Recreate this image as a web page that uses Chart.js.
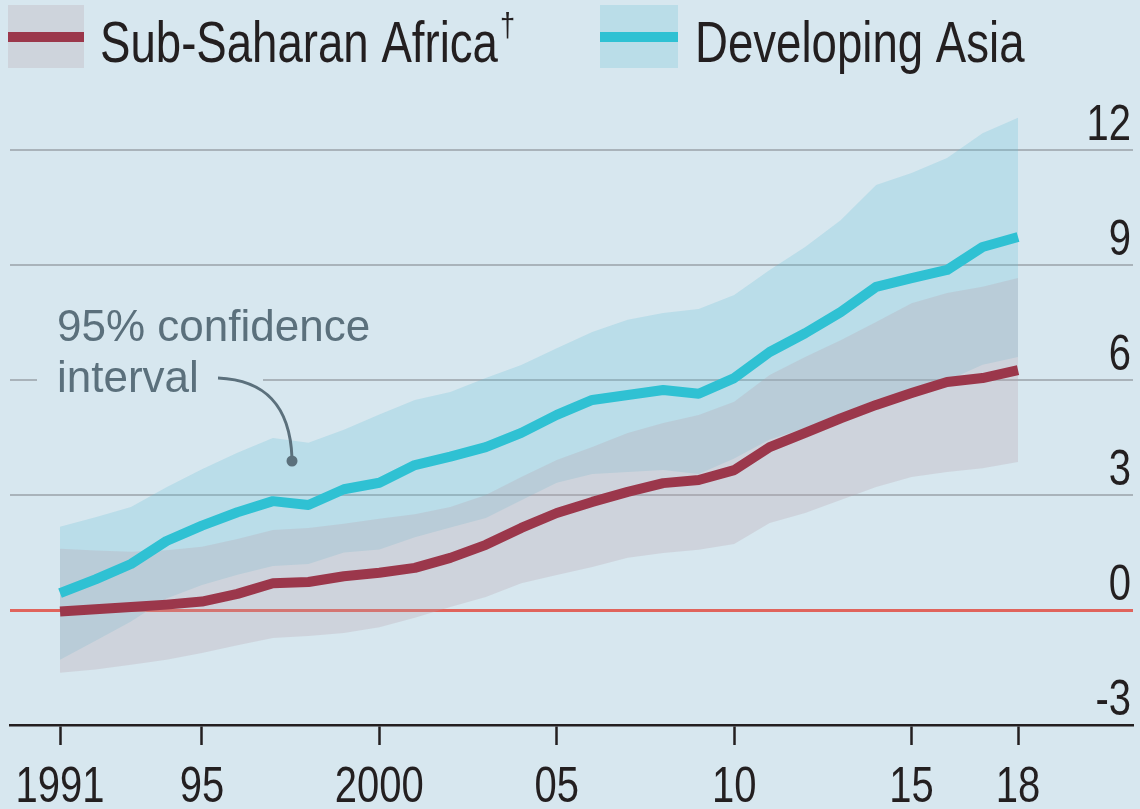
<!DOCTYPE html>
<html>
<head>
<meta charset="utf-8">
<script src="https://cdn.jsdelivr.net/npm/chart.js@4.4.1/dist/chart.umd.min.js"></script>
<style>
    html, body { margin: 0; padding: 0; background: #d7e7ef; }
    canvas { display: block; }
</style>
</head>
<body>
<canvas id="chart" width="1140" height="809"></canvas>
<script>
const years = [1991, 1992, 1993, 1994, 1995, 1996, 1997, 1998, 1999, 2000, 2001, 2002, 2003, 2004,
    2005, 2006, 2007, 2008, 2009, 2010, 2011, 2012, 2013, 2014, 2015, 2016, 2017, 2018];

const africa = [-0.04, 0.02, 0.08, 0.14, 0.22, 0.42, 0.7, 0.73, 0.88, 0.97, 1.1, 1.36, 1.7, 2.14,
    2.53, 2.82, 3.08, 3.31, 3.39, 3.65, 4.25, 4.62, 5.0, 5.35, 5.66, 5.95, 6.05, 6.26];
const africaHi = [1.6, 1.55, 1.52, 1.56, 1.65, 1.85, 2.09, 2.14, 2.25, 2.38, 2.5, 2.69, 3.0, 3.47,
    3.91, 4.25, 4.62, 4.88, 5.09, 5.43, 6.13, 6.6, 7.04, 7.51, 8.0, 8.27, 8.43, 8.66];
const africaLo = [-1.64, -1.55, -1.43, -1.3, -1.12, -0.92, -0.73, -0.68, -0.6, -0.45, -0.2, 0.08, 0.34, 0.7,
    0.91, 1.12, 1.36, 1.49, 1.57, 1.72, 2.27, 2.53, 2.87, 3.21, 3.47, 3.6, 3.7, 3.86];

const asia = [0.44, 0.8, 1.2, 1.8, 2.2, 2.55, 2.84, 2.74, 3.15, 3.32, 3.78, 4.0, 4.25, 4.62,
    5.09, 5.48, 5.61, 5.74, 5.64, 6.05, 6.73, 7.22, 7.77, 8.43, 8.66, 8.87, 9.47, 9.73];
const asiaHi = [2.17, 2.42, 2.69, 3.2, 3.67, 4.1, 4.49, 4.36, 4.7, 5.1, 5.48, 5.69, 6.05, 6.39,
    6.83, 7.25, 7.57, 7.75, 7.85, 8.22, 8.87, 9.47, 10.17, 11.09, 11.4, 11.79, 12.44, 12.84];
const asiaLo = [-1.3, -0.8, -0.3, 0.3, 0.65, 0.92, 1.15, 1.2, 1.5, 1.58, 1.9, 2.15, 2.4, 2.86,
    3.32, 3.55, 3.6, 3.65, 3.55, 3.95, 4.45, 4.75, 5.1, 5.5, 5.75, 5.98, 6.4, 6.6];

const xTicks = [1991, 1995, 2000, 2005, 2010, 2015, 2018];
const xTickLabels = ["1991", "95", "2000", "05", "10", "15", "18"];
const yTicks = [-3, 0, 3, 6, 9, 12];
const yTickLabels = ["-3", "0", "3", "6", "9", "12"];

const bg = "#d7e7ef";
const ink = "#231f20";
const noteInk = "#5b707c";
const red = "#9b374b";
const cyan = "#2fc1d3";
const asiaBand = "rgba(100,190,215,0.25)";
const africaBand = "rgba(183,163,171,0.28)";
const sans = "'Liberation Sans', 'DejaVu Sans', sans-serif";
// the original face is a narrow one, so text is squeezed sideways
const squeeze = 0.8;

function points(values) {
    return years.map((yr, i) => ({ x: yr, y: values[i] }));
}

function lineSet(label, values, color) {
    return {
        label: label,
        data: points(values),
        borderColor: color,
        borderWidth: 10,
        borderJoinStyle: "round",
        borderCapStyle: "butt",
        pointRadius: 0,
        fill: false,
    };
}

function bandSet(label, values, color, fill) {
    return {
        label: label,
        data: points(values),
        borderWidth: 0,
        borderColor: "transparent",
        backgroundColor: color,
        pointRadius: 0,
        fill: fill,
    };
}

function narrowText(ctx, text, x, y, align) {
    ctx.save();
    ctx.translate(x, y);
    ctx.scale(squeeze, 1);
    ctx.textAlign = align;
    ctx.fillText(text, 0, 0);
    const w = ctx.measureText(text).width * squeeze;
    ctx.restore();
    return w;
}

const decor = {
    id: "decor",
    beforeDraw(chart) {
        const ctx = chart.ctx;
        ctx.save();
        ctx.fillStyle = bg;
        ctx.fillRect(0, 0, chart.width, chart.height);
        ctx.restore();
    },
    afterDraw(chart) {
        const ctx = chart.ctx;
        const xScale = chart.scales.x;
        const yScale = chart.scales.y;
        ctx.save();
        ctx.fillStyle = ink;
        ctx.textBaseline = "alphabetic";
        ctx.font = `50px ${sans}`;

        // tick labels
        yTicks.forEach((v, i) => {
            narrowText(ctx, yTickLabels[i], 1131, yScale.getPixelForValue(v) - 10, "right");
        });
        xTicks.forEach((v, i) => {
            narrowText(ctx, xTickLabels[i], xScale.getPixelForValue(v), 802, "center");
        });

        // legend
        ctx.fillStyle = "#ced4dc";
        ctx.fillRect(8, 5, 76, 63);
        ctx.fillStyle = red;
        ctx.fillRect(8, 32, 76, 10);
        ctx.fillStyle = "#badde8";
        ctx.fillRect(600, 5, 78, 63);
        ctx.fillStyle = cyan;
        ctx.fillRect(600, 32, 78, 10);

        ctx.fillStyle = ink;
        ctx.font = `57px ${sans}`;
        const w = narrowText(ctx, "Sub-Saharan Africa", 100, 62, "left");
        narrowText(ctx, "Developing Asia", 695, 62, "left");
        ctx.font = `34px ${sans}`;
        narrowText(ctx, "†", 100 + w + 2, 36, "left");

        // annotation
        ctx.fillStyle = bg;
        ctx.fillRect(37, 290, 226, 110);
        ctx.fillStyle = noteInk;
        ctx.font = `44px ${sans}`;
        ctx.textAlign = "left";
        ctx.fillText("95% confidence", 57, 341);
        ctx.fillText("interval", 57, 392);
        ctx.strokeStyle = noteInk;
        ctx.lineWidth = 3;
        ctx.beginPath();
        ctx.moveTo(218, 378);
        ctx.bezierCurveTo(265, 380, 290, 405, 292, 458);
        ctx.stroke();
        ctx.beginPath();
        ctx.arc(292, 461, 5.5, 0, Math.PI * 2);
        ctx.fill();

        ctx.restore();
    },
};

new Chart(document.getElementById("chart"), {
    type: "line",
    data: {
        datasets: [
            lineSet("Sub-Saharan Africa", africa, red),
            lineSet("Developing Asia", asia, cyan),
            bandSet("Africa high", africaHi, africaBand, "+1"),
            bandSet("Africa low", africaLo, africaBand, false),
            bandSet("Asia high", asiaHi, asiaBand, "+1"),
            bandSet("Asia low", asiaLo, asiaBand, false),
        ],
    },
    options: {
        responsive: false,
        animation: false,
        devicePixelRatio: 1,
        layout: { padding: { top: 92.5, left: 10, right: 0, bottom: 0 } },
        plugins: {
            legend: { display: false },
            tooltip: { enabled: false },
        },
        scales: {
            x: {
                type: "linear",
                min: 1989.59,
                max: 2021.24,
                afterBuildTicks: (scale) => {
                    scale.ticks = xTicks.map((v) => ({ value: v }));
                },
                afterFit: (scale) => {
                    scale.height = 84;
                },
                ticks: { display: false },
                grid: {
                    drawOnChartArea: false,
                    drawTicks: true,
                    tickLength: 20,
                    tickWidth: 2.5,
                    tickColor: ink,
                },
                border: { display: true, color: ink, width: 2.5 },
            },
            y: {
                position: "right",
                min: -3,
                max: 13.5,
                afterBuildTicks: (scale) => {
                    scale.ticks = yTicks.map((v) => ({ value: v }));
                },
                afterFit: (scale) => {
                    scale.width = 7;
                },
                ticks: { display: false },
                grid: {
                    drawTicks: false,
                    color: (c) => c.tick.value === 0 ? "#e0645c" : c.tick.value === -3 ? "transparent" : "#a9b3ba",
                    lineWidth: (c) => c.tick.value === 0 ? 3 : 2,
                },
                border: { display: false },
            },
        },
    },
    plugins: [decor],
});
</script>
</body>
</html>
